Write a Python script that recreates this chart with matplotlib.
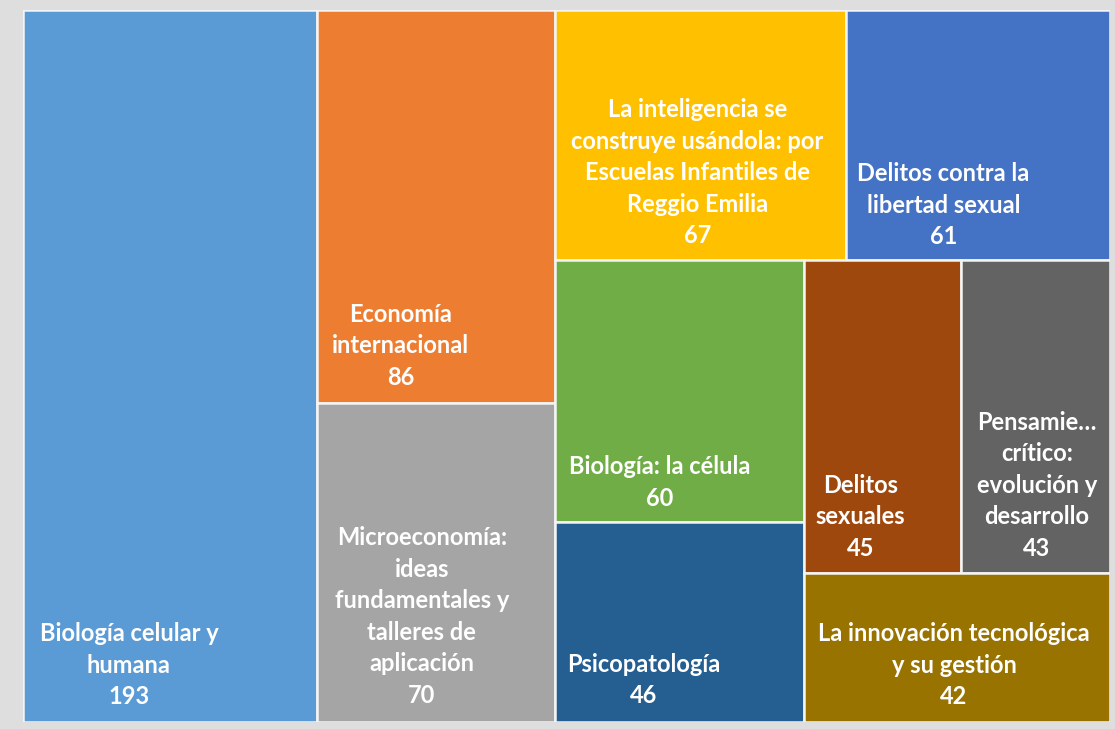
import matplotlib.pyplot as plt
from matplotlib.patches import Rectangle

plt.rcParams['font.family'] = ['Lato', 'DejaVu Sans']

# Datos del treemap
labels = [
    'Biología celular y\nhumana',
    'Economía\ninternacional',
    'Microeconomía:\nideas\nfundamentales y\ntalleres de\naplicación',
    'La inteligencia se\nconstruye usándola: por\nEscuelas Infantiles de\nReggio Emilia',
    'Delitos contra la\nlibertad sexual',
    'Biología: la célula',
    'Psicopatología',
    'Delitos\nsexuales',
    'Pensamie…\ncrítico:\nevolución y\ndesarrollo',
    'La innovación tecnológica\ny su gestión',
]
values = [193, 86, 70, 67, 61, 60, 46, 45, 43, 42]
colors = ['#5B9BD5', '#ED7D31', '#A5A5A5', '#FFC000', '#4472C4',
          '#70AD47', '#255E91', '#9E480E', '#636363', '#997300']

# estructura del reparto (como lo hace Excel): 'h' = columnas, 'v' = filas
layout = ('h', [0, ('v', [1, 2]), ('v', [('h', [3, 4]),
                                          ('h', [('v', [5, 6]),
                                                 ('v', [('h', [7, 8]), 9])])])])

# posición de la etiqueta dentro de cada rectángulo (fracción x, fracción y desde arriba)
label_pos = [(0.36, 0.92), (0.35, 0.855), (0.44, 0.67), (0.49, 0.65), (0.37, 0.78),
             (0.42, 0.85), (0.355, 0.79), (0.36, 0.82), (0.51, 0.72), (0.49, 0.62)]


def total(node):
    if isinstance(node, int):
        return values[node]
    return sum(total(n) for n in node[1])


rects = {}


def split(node, x, y, w, h):
    if isinstance(node, int):
        rects[node] = (x, y, w, h)
        return
    kind, kids = node
    s = total(node)
    for k in kids:
        f = total(k) / s
        if kind == 'h':
            split(k, x, y, w * f, h)
            x += w * f
        else:
            split(k, x, y, w, h * f)
            y += h * f


W, H = 1087, 712
split(layout, 0, 0, W, H)

fig = plt.figure(figsize=(11.15, 7.29), dpi=100, facecolor='#dedede')
ax = fig.add_axes([23 / 1115, 7 / 729, 1087 / 1115, 712 / 729])
ax.set_xlim(0, W)
ax.set_ylim(H, 0)
ax.axis('off')

for i in range(len(values)):
    x, y, w, h = rects[i]
    ax.add_patch(Rectangle((x, y), w, h, facecolor=colors[i],
                           edgecolor='#f4f4f4', linewidth=1.8))
    fx, fy = label_pos[i]
    ax.text(x + w * fx, y + h * fy, labels[i] + '\n' + str(values[i]),
            ha='center', va='center', multialignment='center',
            color='white', fontsize=17, fontweight='bold', linespacing=1.45)

fig.savefig('out.png', dpi=100, facecolor=fig.get_facecolor())
